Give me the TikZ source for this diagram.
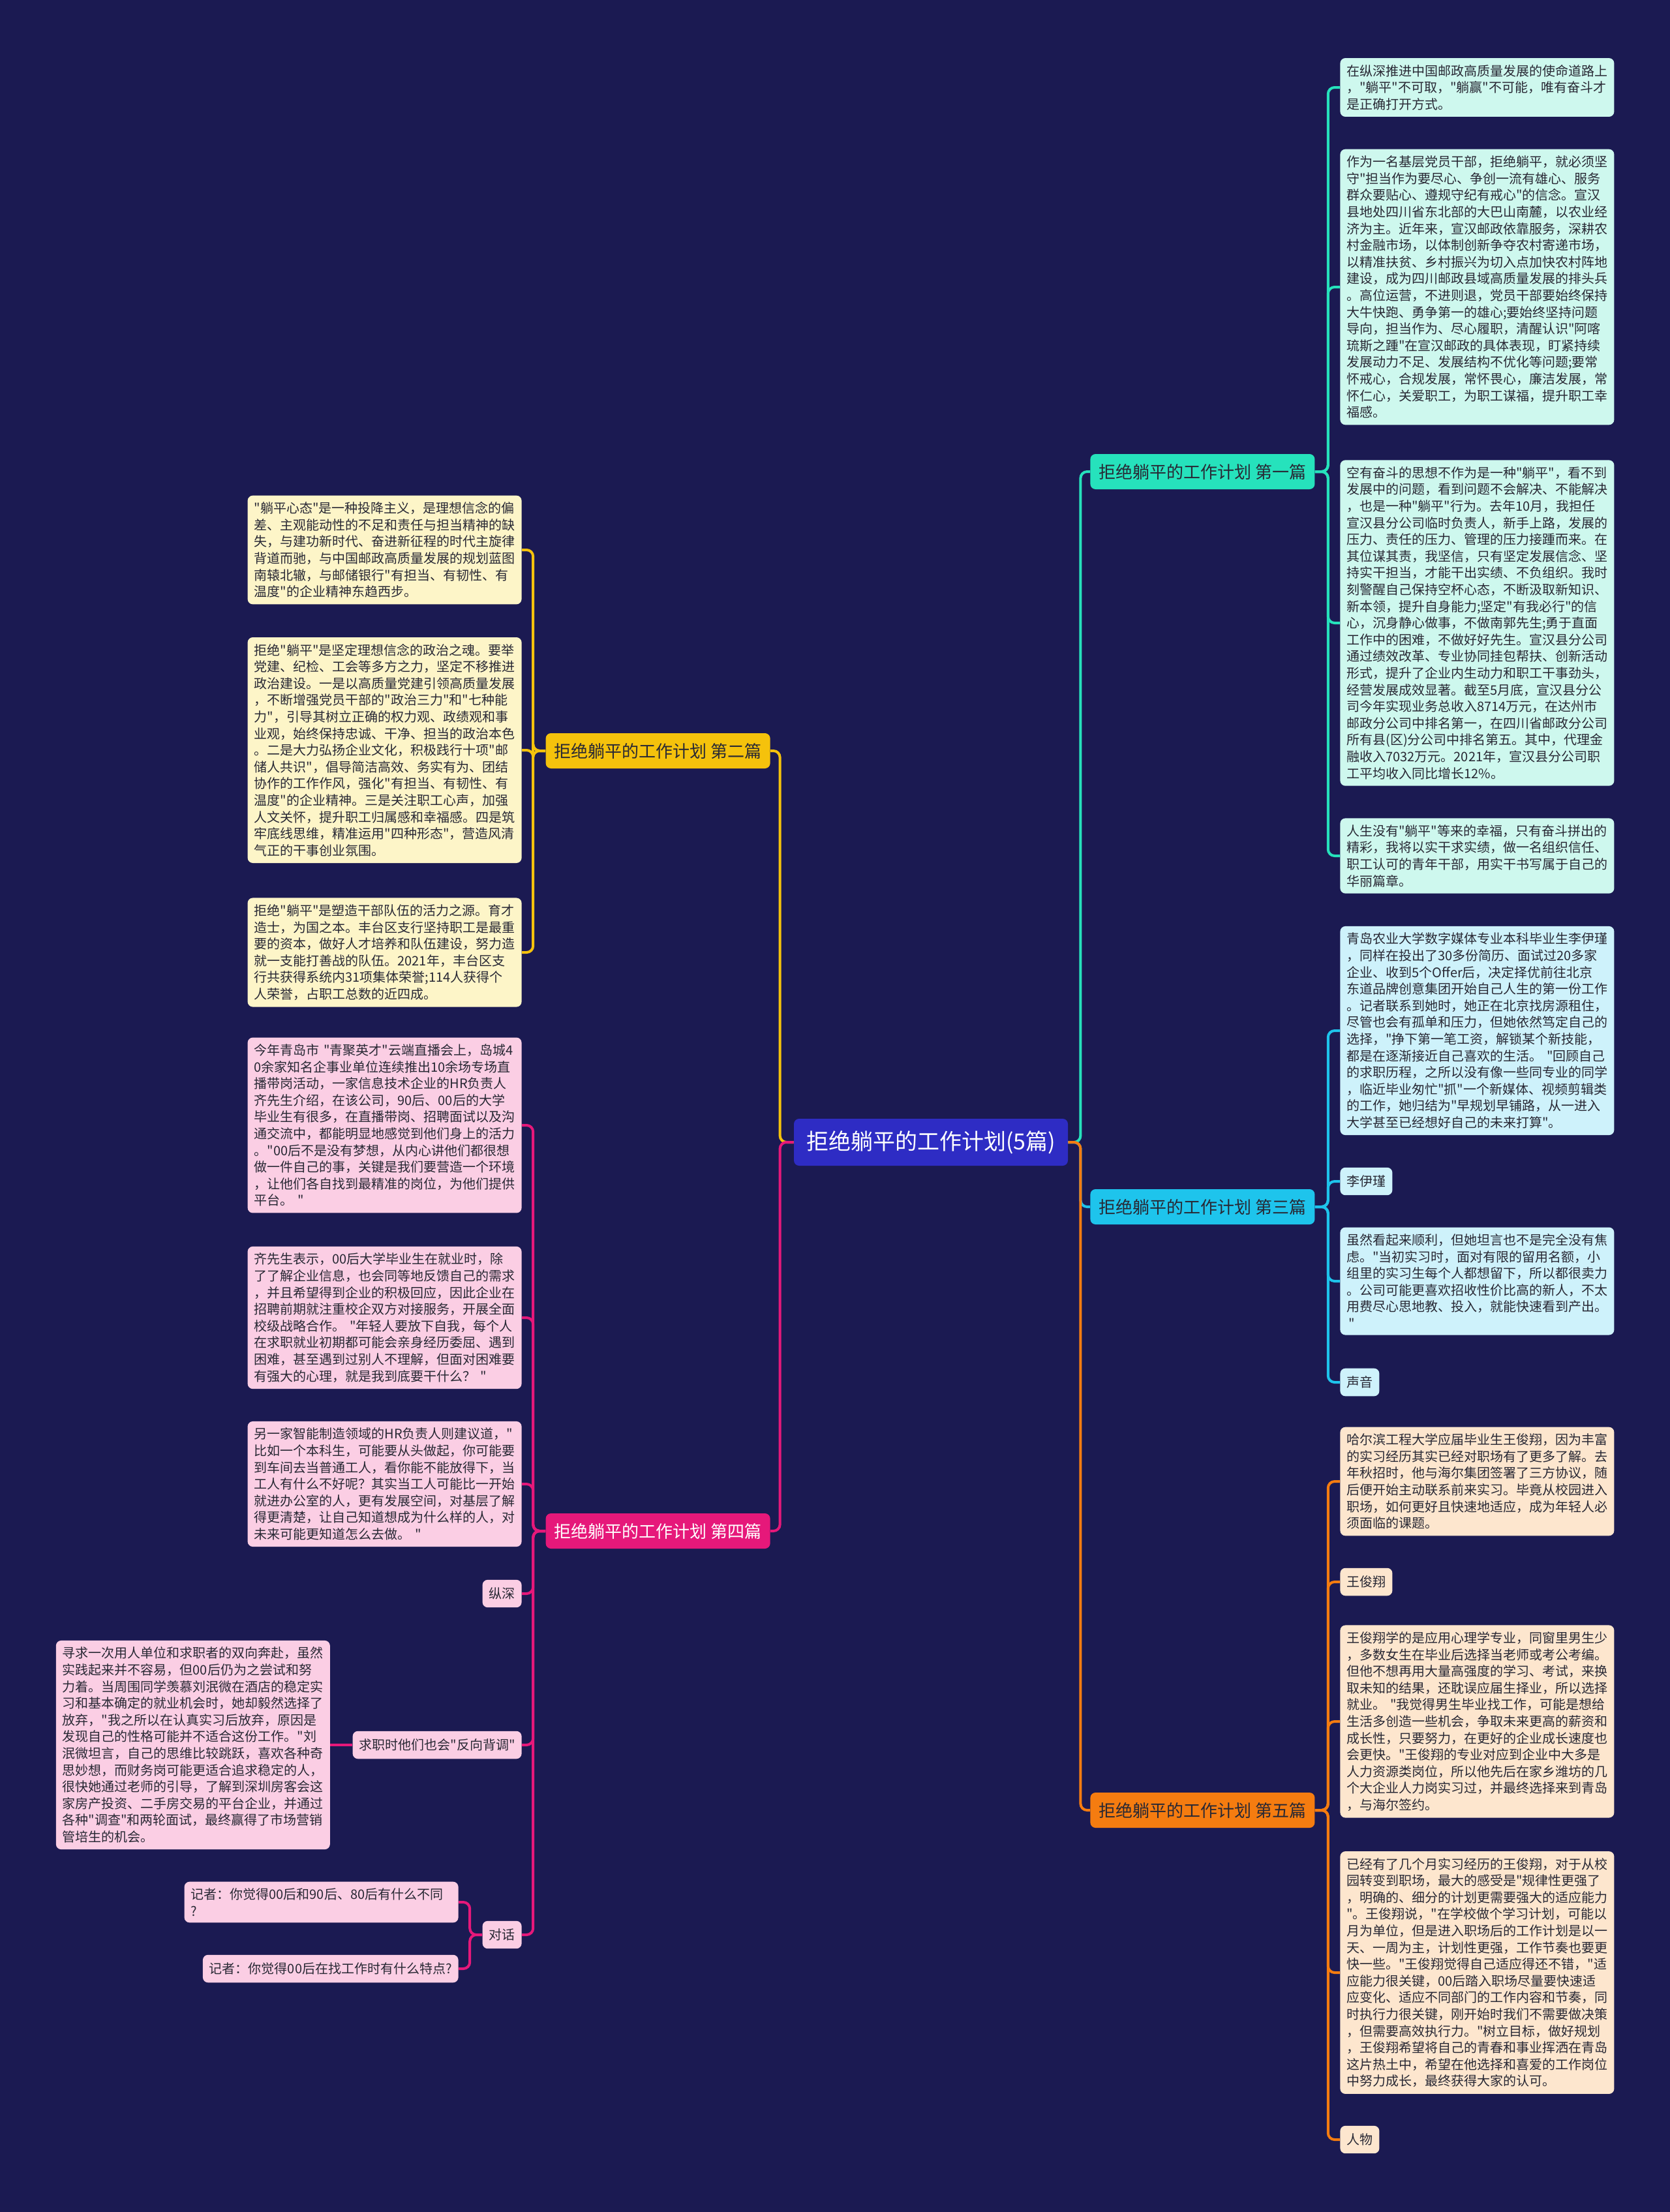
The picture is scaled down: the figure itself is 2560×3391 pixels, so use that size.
\documentclass[tikz,border=0pt]{standalone}
\usepackage{fontspec}
\newfontfamily\zhfont{Noto Sans CJK SC}
\usetikzlibrary{positioning}
\definecolor{bgnavy}{RGB}{27,26,82}
\definecolor{hubblue}{RGB}{46,44,196}
\definecolor{mintbr}{RGB}{38,226,188}
\definecolor{mintlt}{RGB}{206,248,238}
\definecolor{cyanbr}{RGB}{30,196,236}
\definecolor{cyanlt}{RGB}{206,242,251}
\definecolor{orangebr}{RGB}{245,124,16}
\definecolor{orangelt}{RGB}{253,230,206}
\definecolor{goldbr}{RGB}{245,194,12}
\definecolor{goldlt}{RGB}{253,245,200}
\definecolor{rosebr}{RGB}{230,24,122}
\definecolor{roselt}{RGB}{251,206,228}
\definecolor{inkdark}{RGB}{40,40,52}

\begin{document}
\begin{tikzpicture}[x=0.5pt, y=-0.5pt,
  hub/.style={rectangle, rounded corners=4pt, fill=hubblue, text=white,
              minimum width=210pt, minimum height=36pt,
              font=\zhfont\fontsize{17pt}{20pt}\selectfont},
  chapter/.style={rectangle, rounded corners=4pt, fill=#1, text=inkdark,
                  minimum width=172pt, minimum height=27pt, inner xsep=6pt,
                  font=\zhfont\fontsize{13pt}{16pt}\selectfont},
  memo/.style={rectangle, rounded corners=4pt, fill=#1, text=inkdark,
               text width=200pt, align=left, inner xsep=5pt, inner ysep=5pt,
               font=\zhfont\fontsize{10pt}{12.8pt}\selectfont},
  tagmemo/.style={rectangle, rounded corners=4pt, fill=#1, text=inkdark,
                  inner xsep=5pt, inner ysep=6pt,
                  font=\zhfont\fontsize{10pt}{12.8pt}\selectfont},
  wire/.style={draw=#1, line width=2pt, rounded corners=5pt},
]
\useasboundingbox (0,0) rectangle (2560,3391);
\fill[bgnavy] (0,0) rectangle (2560,3391);

% centre and the five chapters
\node[hub] (hub) at (1427,1751) {拒绝躺平的工作计划(5篇)};
\node[chapter=mintbr, anchor=west] (ch1) at (1671,723) {拒绝躺平的工作计划 第一篇};
\node[chapter=goldbr, anchor=east] (ch2) at (1181,1151) {拒绝躺平的工作计划 第二篇};
\node[chapter=cyanbr, anchor=west] (ch3) at (1671,1850) {拒绝躺平的工作计划 第三篇};
\node[chapter=rosebr, anchor=east, text=white] (ch4) at (1181,2347) {拒绝躺平的工作计划 第四篇};
\node[chapter=orangebr, anchor=west] (ch5) at (1671,2775) {拒绝躺平的工作计划 第五篇};

% chapter 1
\node[memo=mintlt, anchor=west] (c1a) at (2054,134) {在纵深推进中国邮政高质量发展的使命道路上\\
，"躺平"不可取，"躺赢"不可能，唯有奋斗才\\
是正确打开方式。};
\node[memo=mintlt, anchor=west] (c1b) at (2054,440) {作为一名基层党员干部，拒绝躺平，就必须坚\\
守"担当作为要尽心、争创一流有雄心、服务\\
群众要贴心、遵规守纪有戒心"的信念。宣汉\\
县地处四川省东北部的大巴山南麓，以农业经\\
济为主。近年来，宣汉邮政依靠服务，深耕农\\
村金融市场，以体制创新争夺农村寄递市场，\\
以精准扶贫、乡村振兴为切入点加快农村阵地\\
建设，成为四川邮政县域高质量发展的排头兵\\
。高位运营，不进则退，党员干部要始终保持\\
大牛快跑、勇争第一的雄心;要始终坚持问题\\
导向，担当作为、尽心履职，清醒认识"阿喀\\
琉斯之踵"在宣汉邮政的具体表现，盯紧持续\\
发展动力不足、发展结构不优化等问题;要常\\
怀戒心，合规发展，常怀畏心，廉洁发展，常\\
怀仁心，关爱职工，为职工谋福，提升职工幸\\
福感。};
\node[memo=mintlt, anchor=west] (c1c) at (2054,955) {空有奋斗的思想不作为是一种"躺平"，看不到\\
发展中的问题，看到问题不会解决、不能解决\\
，也是一种"躺平"行为。去年10月，我担任\\
宣汉县分公司临时负责人，新手上路，发展的\\
压力、责任的压力、管理的压力接踵而来。在\\
其位谋其责，我坚信，只有坚定发展信念、坚\\
持实干担当，才能干出实绩、不负组织。我时\\
刻警醒自己保持空杯心态，不断汲取新知识、\\
新本领，提升自身能力;坚定"有我必行"的信\\
心，沉身静心做事，不做南郭先生;勇于直面\\
工作中的困难，不做好好先生。宣汉县分公司\\
通过绩效改革、专业协同挂包帮扶、创新活动\\
形式，提升了企业内生动力和职工干事劲头，\\
经营发展成效显著。截至5月底，宣汉县分公\\
司今年实现业务总收入8714万元，在达州市\\
邮政分公司中排名第一，在四川省邮政分公司\\
所有县(区)分公司中排名第五。其中，代理金\\
融收入7032万元。2021年，宣汉县分公司职\\
工平均收入同比增长12\%。};
\node[memo=mintlt, anchor=west] (c1d) at (2054,1312) {人生没有"躺平"等来的幸福，只有奋斗拼出的\\
精彩，我将以实干求实绩，做一名组织信任、\\
职工认可的青年干部，用实干书写属于自己的\\
华丽篇章。};

% chapter 3
\node[memo=cyanlt, anchor=west] (c3a) at (2054,1580) {青岛农业大学数字媒体专业本科毕业生李伊瑾\\
，同样在投出了30多份简历、面试过20多家\\
企业、收到5个Offer后，决定择优前往北京\\
东道品牌创意集团开始自己人生的第一份工作\\
。记者联系到她时，她正在北京找房源租住，\\
尽管也会有孤单和压力，但她依然笃定自己的\\
选择，"挣下第一笔工资，解锁某个新技能，\\
都是在逐渐接近自己喜欢的生活。 "回顾自己\\
的求职历程，之所以没有像一些同专业的同学\\
，临近毕业匆忙"抓"一个新媒体、视频剪辑类\\
的工作，她归结为"早规划早铺路，从一进入\\
大学甚至已经想好自己的未来打算"。};
\node[tagmemo=cyanlt, anchor=west] (c3b) at (2054,1811) {李伊瑾};
\node[memo=cyanlt, anchor=west] (c3c) at (2054,1964) {虽然看起来顺利，但她坦言也不是完全没有焦\\
虑。"当初实习时，面对有限的留用名额，小\\
组里的实习生每个人都想留下，所以都很卖力\\
。公司可能更喜欢招收性价比高的新人，不太\\
用费尽心思地教、投入，就能快速看到产出。\\
\,"};
\node[tagmemo=cyanlt, anchor=west] (c3d) at (2054,2119) {声音};

% chapter 5
\node[memo=orangelt, anchor=west] (c5a) at (2054,2271) {哈尔滨工程大学应届毕业生王俊翔，因为丰富\\
的实习经历其实已经对职场有了更多了解。去\\
年秋招时，他与海尔集团签署了三方协议，随\\
后便开始主动联系前来实习。毕竟从校园进入\\
职场，如何更好且快速地适应，成为年轻人必\\
须面临的课题。};
\node[tagmemo=orangelt, anchor=west] (c5b) at (2054,2425) {王俊翔};
\node[memo=orangelt, anchor=west] (c5c) at (2054,2639) {王俊翔学的是应用心理学专业，同窗里男生少\\
，多数女生在毕业后选择当老师或考公考编。\\
但他不想再用大量高强度的学习、考试，来换\\
取未知的结果，还耽误应届生择业，所以选择\\
就业。 "我觉得男生毕业找工作，可能是想给\\
生活多创造一些机会，争取未来更高的薪资和\\
成长性，只要努力，在更好的企业成长速度也\\
会更快。"王俊翔的专业对应到企业中大多是\\
人力资源类岗位，所以他先后在家乡潍坊的几\\
个大企业人力岗实习过，并最终选择来到青岛\\
，与海尔签约。};
\node[memo=orangelt, anchor=west] (c5d) at (2054,3024) {已经有了几个月实习经历的王俊翔，对于从校\\
园转变到职场，最大的感受是"规律性更强了\\
，明确的、细分的计划更需要强大的适应能力\\
"。王俊翔说，"在学校做个学习计划，可能以\\
月为单位，但是进入职场后的工作计划是以一\\
天、一周为主，计划性更强，工作节奏也要更\\
快一些。"王俊翔觉得自己适应得还不错，"适\\
应能力很关键，00后踏入职场尽量要快速适\\
应变化、适应不同部门的工作内容和节奏，同\\
时执行力很关键，刚开始时我们不需要做决策\\
，但需要高效执行力。"树立目标，做好规划\\
，王俊翔希望将自己的青春和事业挥洒在青岛\\
这片热土中，希望在他选择和喜爱的工作岗位\\
中努力成长，最终获得大家的认可。};
\node[tagmemo=orangelt, anchor=west] (c5e) at (2054,3280) {人物};

% chapter 2
\node[memo=goldlt, anchor=east] (c2a) at (800,843) {"躺平心态"是一种投降主义，是理想信念的偏\\
差、主观能动性的不足和责任与担当精神的缺\\
失，与建功新时代、奋进新征程的时代主旋律\\
背道而驰，与中国邮政高质量发展的规划蓝图\\
南辕北辙，与邮储银行"有担当、有韧性、有\\
温度"的企业精神东趋西步。};
\node[memo=goldlt, anchor=east] (c2b) at (800,1150) {拒绝"躺平"是坚定理想信念的政治之魂。要举\\
党建、纪检、工会等多方之力，坚定不移推进\\
政治建设。一是以高质量党建引领高质量发展\\
，不断增强党员干部的"政治三力"和"七种能\\
力"，引导其树立正确的权力观、政绩观和事\\
业观，始终保持忠诚、干净、担当的政治本色\\
。二是大力弘扬企业文化，积极践行十项"邮\\
储人共识"，倡导简洁高效、务实有为、团结\\
协作的工作作风，强化"有担当、有韧性、有\\
温度"的企业精神。三是关注职工心声，加强\\
人文关怀，提升职工归属感和幸福感。四是筑\\
牢底线思维，精准运用"四种形态"，营造风清\\
气正的干事创业氛围。};
\node[memo=goldlt, anchor=east] (c2c) at (800,1460) {拒绝"躺平"是塑造干部队伍的活力之源。育才\\
造士，为国之本。丰台区支行坚持职工是最重\\
要的资本，做好人才培养和队伍建设，努力造\\
就一支能打善战的队伍。2021年，丰台区支\\
行共获得系统内31项集体荣誉;114人获得个\\
人荣誉，占职工总数的近四成。};

% chapter 4
\node[memo=roselt, anchor=east] (c4a) at (800,1725) {今年青岛市 "青聚英才"云端直播会上，岛城4\\
0余家知名企事业单位连续推出10余场专场直\\
播带岗活动，一家信息技术企业的HR负责人\\
齐先生介绍，在该公司，90后、00后的大学\\
毕业生有很多，在直播带岗、招聘面试以及沟\\
通交流中，都能明显地感觉到他们身上的活力\\
。"00后不是没有梦想，从内心讲他们都很想\\
做一件自己的事，关键是我们要营造一个环境\\
，让他们各自找到最精准的岗位，为他们提供\\
平台。 "};
\node[memo=roselt, anchor=east] (c4b) at (800,2020) {齐先生表示，00后大学毕业生在就业时，除\\
了了解企业信息，也会同等地反馈自己的需求\\
，并且希望得到企业的积极回应，因此企业在\\
招聘前期就注重校企双方对接服务，开展全面\\
校级战略合作。 "年轻人要放下自我，每个人\\
在求职就业初期都可能会亲身经历委屈、遇到\\
困难，甚至遇到过别人不理解，但面对困难要\\
有强大的心理，就是我到底要干什么？ "};
\node[memo=roselt, anchor=east] (c4c) at (800,2275) {另一家智能制造领域的HR负责人则建议道，"\\
比如一个本科生，可能要从头做起，你可能要\\
到车间去当普通工人，看你能不能放得下，当\\
工人有什么不好呢？其实当工人可能比一开始\\
就进办公室的人，更有发展空间，对基层了解\\
得更清楚，让自己知道想成为什么样的人，对\\
未来可能更知道怎么去做。 "};
\node[tagmemo=roselt, anchor=east] (c4d) at (800,2443) {纵深};
\node[tagmemo=roselt, anchor=east] (qz) at (800,2675) {求职时他们也会"反向背调"};
\node[memo=roselt, left=17pt of qz] (xq) {寻求一次用人单位和求职者的双向奔赴，虽然\\
实践起来并不容易，但00后仍为之尝试和努\\
力着。当周围同学羡慕刘泯微在酒店的稳定实\\
习和基本确定的就业机会时，她却毅然选择了\\
放弃，"我之所以在认真实习后放弃，原因是\\
发现自己的性格可能并不适合这份工作。"刘\\
泯微坦言，自己的思维比较跳跃，喜欢各种奇\\
思妙想，而财务岗可能更适合追求稳定的人，\\
很快她通过老师的引导，了解到深圳房客会这\\
家房产投资、二手房交易的平台企业，并通过\\
各种"调查"和两轮面试，最终赢得了市场营销\\
管培生的机会。};
\node[tagmemo=roselt, anchor=east] (dlg) at (800,2966) {对话};
\node[memo=roselt, anchor=east] (dlgA) at (703,2916) {记者：你觉得00后和90后、80后有什么不同\\
?};
\node[tagmemo=roselt, anchor=east] (dlgB) at (703,3018) {记者：你觉得00后在找工作时有什么特点?};

% trunk points
\coordinate (hubR) at ([xshift=9.5pt]hub.east);
\coordinate (hubL) at ([xshift=-10.5pt]hub.west);
\coordinate (ch1T) at ([xshift=10pt]ch1.east);
\coordinate (ch3T) at ([xshift=10pt]ch3.east);
\coordinate (ch5T) at ([xshift=10pt]ch5.east);
\coordinate (ch2T) at ([xshift=-9.5pt]ch2.west);
\coordinate (ch4T) at ([xshift=-9.5pt]ch4.west);
\coordinate (dlgT) at ([xshift=-9.5pt]dlg.west);

% connectors
\draw[wire=mintbr]   (hub.east) -- (hubR) |- (ch1.west);
\draw[wire=cyanbr]   (hub.east) -- (hubR) |- (ch3.west);
\draw[wire=orangebr] (hub.east) -- (hubR) |- (ch5.west);
\draw[wire=goldbr]   (hub.west) -- (hubL) |- (ch2.east);
\draw[wire=rosebr]   (hub.west) -- (hubL) |- (ch4.east);

\draw[wire=mintbr] (ch1.east) -- (ch1T) |- (c1a.west);
\draw[wire=mintbr] (ch1.east) -- (ch1T) |- (c1b.west);
\draw[wire=mintbr] (ch1.east) -- (ch1T) |- (c1c.west);
\draw[wire=mintbr] (ch1.east) -- (ch1T) |- (c1d.west);

\draw[wire=cyanbr] (ch3.east) -- (ch3T) |- (c3a.west);
\draw[wire=cyanbr] (ch3.east) -- (ch3T) |- (c3b.west);
\draw[wire=cyanbr] (ch3.east) -- (ch3T) |- (c3c.west);
\draw[wire=cyanbr] (ch3.east) -- (ch3T) |- (c3d.west);

\draw[wire=orangebr] (ch5.east) -- (ch5T) |- (c5a.west);
\draw[wire=orangebr] (ch5.east) -- (ch5T) |- (c5b.west);
\draw[wire=orangebr] (ch5.east) -- (ch5T) |- (c5c.west);
\draw[wire=orangebr] (ch5.east) -- (ch5T) |- (c5d.west);
\draw[wire=orangebr] (ch5.east) -- (ch5T) |- (c5e.west);

\draw[wire=goldbr] (ch2.west) -- (ch2T) |- (c2a.east);
\draw[wire=goldbr] (ch2.west) -- (ch2T) |- (c2b.east);
\draw[wire=goldbr] (ch2.west) -- (ch2T) |- (c2c.east);

\draw[wire=rosebr] (ch4.west) -- (ch4T) |- (c4a.east);
\draw[wire=rosebr] (ch4.west) -- (ch4T) |- (c4b.east);
\draw[wire=rosebr] (ch4.west) -- (ch4T) |- (c4c.east);
\draw[wire=rosebr] (ch4.west) -- (ch4T) |- (c4d.east);
\draw[wire=rosebr] (ch4.west) -- (ch4T) |- (qz.east);
\draw[wire=rosebr] (ch4.west) -- (ch4T) |- (dlg.east);
\draw[wire=rosebr] (qz.west) -- (xq.east);
\draw[wire=rosebr] (dlg.west) -- (dlgT) |- (dlgA.east);
\draw[wire=rosebr] (dlg.west) -- (dlgT) |- (dlgB.east);
\end{tikzpicture}
\end{document}
